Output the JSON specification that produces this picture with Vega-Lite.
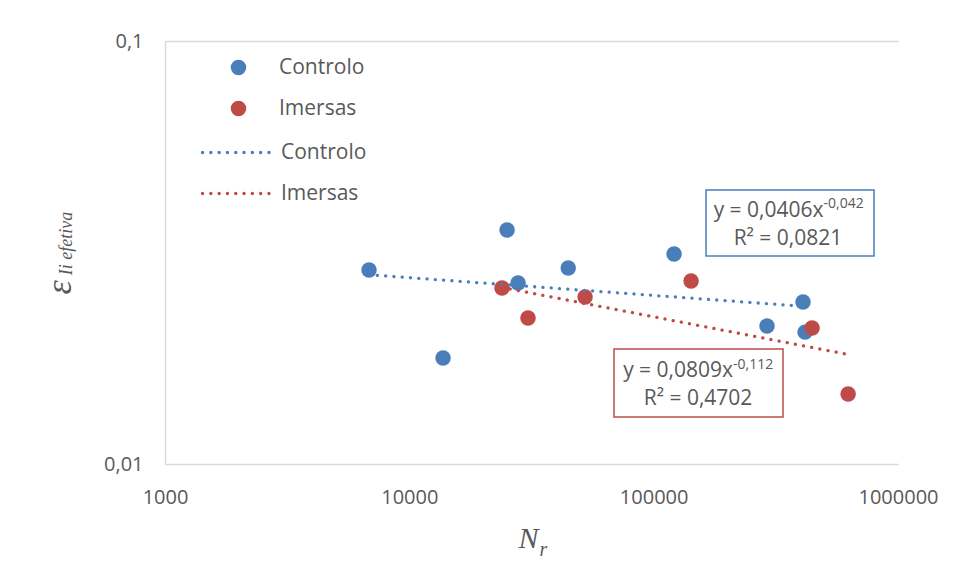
{
  "$schema": "https://vega.github.io/schema/vega-lite/v6.json",
  "width": 733,
  "height": 423,
  "autosize": "none",
  "padding": {"left": 165, "top": 41, "right": 58, "bottom": 119},
  "background": "white",
  "config": {
    "view": {"stroke": null},
    "font": "Open Sans",
    "axis": {
      "labelFont": "Open Sans",
      "labelFontSize": 20,
      "labelColor": "#595959",
      "ticks": false,
      "tickSize": 0,
      "labelFlush": false,
      "labelOverlap": false,
      "labelBound": false,
      "titleFont": "Liberation Serif",
      "titleFontStyle": "italic",
      "titleFontWeight": "normal",
      "titleColor": "#595959"
    },
    "legend": {
      "labelFont": "Open Sans",
      "labelFontSize": 21,
      "labelColor": "#595959",
      "padding": 0,
      "offset": 0
    }
  },
  "datasets": {
    "pts": [
      {"Nr": 6840, "eps": 0.02874, "serie": "Controlo"},
      {"Nr": 13740, "eps": 0.01781, "serie": "Controlo"},
      {"Nr": 25120, "eps": 0.03574, "serie": "Controlo"},
      {"Nr": 27860, "eps": 0.02679, "serie": "Controlo"},
      {"Nr": 44700, "eps": 0.02906, "serie": "Controlo"},
      {"Nr": 121200, "eps": 0.03137, "serie": "Controlo"},
      {"Nr": 291000, "eps": 0.02119, "serie": "Controlo"},
      {"Nr": 408600, "eps": 0.02415, "serie": "Controlo"},
      {"Nr": 416500, "eps": 0.0205, "serie": "Controlo"},
      {"Nr": 23950, "eps": 0.02607, "serie": "Imersas"},
      {"Nr": 30600, "eps": 0.02214, "serie": "Imersas"},
      {"Nr": 52400, "eps": 0.02482, "serie": "Imersas"},
      {"Nr": 142300, "eps": 0.02708, "serie": "Imersas"},
      {"Nr": 444900, "eps": 0.02097, "serie": "Imersas"},
      {"Nr": 625000, "eps": 0.01464, "serie": "Imersas"}
    ],
    "trend": [
      {"Nr": 6840, "eps": 0.02802, "trend": "Controlo"},
      {"Nr": 416500, "eps": 0.02358, "trend": "Controlo"},
      {"Nr": 23950, "eps": 0.02615, "trend": "Imersas"},
      {"Nr": 625000, "eps": 0.01815, "trend": "Imersas"}
    ],
    "eqBox": [
      {"trend": "Controlo", "x1": 163800, "x2": 797600, "y1": 0.04444, "y2": 0.03101},
      {"trend": "Imersas", "x1": 68820, "x2": 338300, "y1": 0.0187, "y2": 0.01292}
    ],
    "eqMain": [
      {"trend": "Controlo", "Nr": 495700, "eps": 0.03836, "text": "y = 0,0406x"},
      {"trend": "Imersas", "Nr": 211300, "eps": 0.01605, "text": "y = 0,0809x"}
    ],
    "eqExp": [
      {"trend": "Controlo", "Nr": 495700, "eps": 0.04029, "text": "-0,042"},
      {"trend": "Imersas", "Nr": 211300, "eps": 0.01677, "text": "-0,112"}
    ],
    "eqR2": [
      {"trend": "Controlo", "Nr": 354600, "eps": 0.03294, "text": "R² = 0,0821"},
      {"trend": "Imersas", "Nr": 151900, "eps": 0.01378, "text": "R² = 0,4702"}
    ]
  },
  "resolve": {"axis": {"x": "independent", "y": "independent"}},
  "layer": [
    {
      "data": {"name": "eqBox"},
      "mark": {"type": "rect", "fill": "white", "strokeWidth": 1.5},
      "encoding": {
        "x": {"field": "x1", "type": "quantitative", "scale": {"type": "log", "domain": [1000, 1000000], "nice": false}, "axis": null},
        "x2": {"field": "x2"},
        "y": {"field": "y1", "type": "quantitative", "scale": {"type": "log", "domain": [0.01, 0.1], "nice": false}, "axis": null},
        "y2": {"field": "y2"},
        "stroke": {"field": "trend", "type": "nominal", "scale": {"domain": ["Imersas", "Controlo"], "range": ["#BE4B48", "#4A7EBB"]}}
      }
    },
    {
      "data": {"name": "pts"},
      "mark": {"type": "circle", "size": 240, "opacity": 1},
      "encoding": {
        "x": {
          "field": "Nr", "type": "quantitative",
          "scale": {"type": "log", "domain": [1000, 1000000], "nice": false},
          "axis": {
            "orient": "bottom",
            "values": [1000, 10000, 100000, 1000000],
            "format": "d",
            "grid": false,
            "domain": false,
            "labelBaseline": "alphabetic",
            "labelPadding": 39,
            "title": "N",
            "titleFontSize": 30,
            "titleX": 363,
            "titleY": 83,
            "titleAngle": 0,
            "titleAlign": "center",
            "titleBaseline": "alphabetic"
          }
        },
        "y": {
          "field": "eps", "type": "quantitative",
          "scale": {"type": "log", "domain": [0.01, 0.1], "nice": false},
          "axis": {
            "orient": "left",
            "values": [0.01, 0.1],
            "labelExpr": "replace(toString(datum.value), '.', ',')",
            "grid": true,
            "gridColor": "#d9d9d9",
            "gridWidth": 1.5,
            "domain": true,
            "domainColor": "#d9d9d9",
            "domainWidth": 1.5,
            "labelPadding": 22,
            "title": "ε",
            "titleFontSize": 36,
            "titleX": -95,
            "titleY": 246,
            "titleAngle": 270,
            "titleAlign": "center",
            "titleBaseline": "alphabetic"
          }
        },
        "fill": {
          "field": "serie", "type": "nominal",
          "scale": {"domain": ["Controlo", "Imersas"], "range": ["#4A7EBB", "#BE4B48"]},
          "legend": {
            "title": null,
            "orient": "none",
            "legendX": 63,
            "legendY": 16,
            "symbolType": "circle",
            "symbolSize": 240,
            "symbolStrokeWidth": 0,
            "labelOffset": 30,
            "rowPadding": 19
          }
        }
      }
    },
    {
      "data": {"name": "trend"},
      "mark": {"type": "line", "strokeWidth": 3.3, "strokeDash": [0.1, 8.2], "strokeCap": "round"},
      "encoding": {
        "x": {
          "field": "Nr", "type": "quantitative",
          "scale": {"type": "log", "domain": [1000, 1000000], "nice": false},
          "axis": {
            "orient": "bottom",
            "labels": false,
            "grid": false,
            "domain": false,
            "title": "r",
            "titleFontSize": 20,
            "titleX": 378,
            "titleY": 91,
            "titleAngle": 0,
            "titleAlign": "center",
            "titleBaseline": "alphabetic"
          }
        },
        "y": {
          "field": "eps", "type": "quantitative",
          "scale": {"type": "log", "domain": [0.01, 0.1], "nice": false},
          "axis": {
            "orient": "left",
            "labels": false,
            "grid": false,
            "domain": false,
            "title": "Ii efetiva",
            "titleFontSize": 18,
            "titleX": -94,
            "titleY": 202,
            "titleAngle": 270,
            "titleAlign": "center",
            "titleBaseline": "alphabetic"
          }
        },
        "stroke": {
          "field": "trend", "type": "nominal",
          "scale": {"domain": ["Imersas", "Controlo"], "range": ["#BE4B48", "#4A7EBB"]},
          "legend": {
            "title": null,
            "values": ["Controlo", "Imersas"],
            "orient": "none",
            "legendX": 63,
            "legendY": 101,
            "symbolType": "M-4.5,0H4.5",
            "symbolSize": 256,
            "symbolStrokeWidth": 3.3,
            "symbolDash": [0.1, 8.2],
            "labelOffset": 32,
            "rowPadding": 19,
            "encode": {"symbols": {"update": {"strokeCap": {"value": "round"}}}}
          }
        }
      }
    },
    {
      "data": {"name": "eqMain"},
      "mark": {"type": "text", "align": "right", "baseline": "alphabetic", "font": "Open Sans", "fontSize": 21, "color": "#595959"},
      "encoding": {
        "x": {"field": "Nr", "type": "quantitative", "scale": {"type": "log", "domain": [1000, 1000000], "nice": false}, "axis": null},
        "y": {"field": "eps", "type": "quantitative", "scale": {"type": "log", "domain": [0.01, 0.1], "nice": false}, "axis": null},
        "text": {"field": "text"}
      }
    },
    {
      "data": {"name": "eqExp"},
      "mark": {"type": "text", "align": "left", "baseline": "alphabetic", "font": "Open Sans", "fontSize": 14, "color": "#595959"},
      "encoding": {
        "x": {"field": "Nr", "type": "quantitative", "scale": {"type": "log", "domain": [1000, 1000000], "nice": false}, "axis": null},
        "y": {"field": "eps", "type": "quantitative", "scale": {"type": "log", "domain": [0.01, 0.1], "nice": false}, "axis": null},
        "text": {"field": "text"}
      }
    },
    {
      "data": {"name": "eqR2"},
      "mark": {"type": "text", "align": "center", "baseline": "alphabetic", "font": "Open Sans", "fontSize": 21, "color": "#595959"},
      "encoding": {
        "x": {"field": "Nr", "type": "quantitative", "scale": {"type": "log", "domain": [1000, 1000000], "nice": false}, "axis": null},
        "y": {"field": "eps", "type": "quantitative", "scale": {"type": "log", "domain": [0.01, 0.1], "nice": false}, "axis": null},
        "text": {"field": "text"}
      }
    }
  ]
}
